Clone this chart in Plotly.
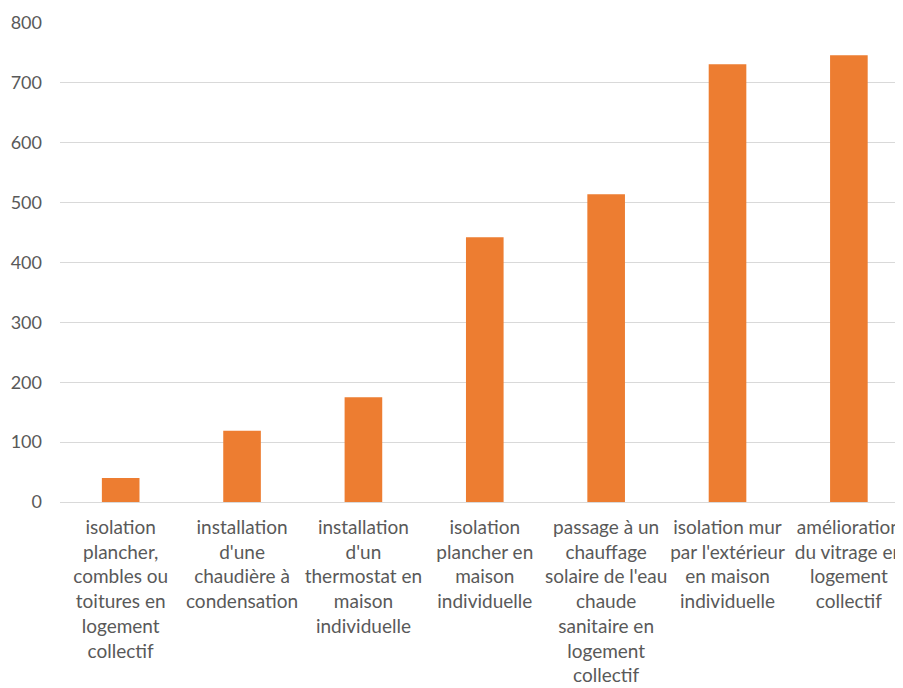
import plotly.graph_objects as go

categories = [
    "isolation<br>plancher,<br>combles ou<br>toitures en<br>logement<br>collectif",
    "installation<br>d'une<br>chaudière à<br>condensation",
    "installation<br>d'un<br>thermostat en<br>maison<br>individuelle",
    "isolation<br>plancher en<br>maison<br>individuelle",
    "passage à un<br>chauffage<br>solaire de l'eau<br>chaude<br>sanitaire en<br>logement<br>collectif",
    "isolation mur<br>par l'extérieur<br>en maison<br>individuelle",
    "amélioration<br>du vitrage en<br>logement<br>collectif",
]
values = [40, 119, 175, 442, 514, 731, 746]
y_ticks = [0, 100, 200, 300, 400, 500, 600, 700, 800]

fig = go.Figure(
    go.Bar(
        x=list(range(len(categories))),
        y=values,
        marker=dict(color="#ED7D31", line=dict(width=0)),
        width=0.31,
    )
)

fig.update_layout(
    width=895,
    height=680,
    margin=dict(l=52, r=0, t=15, b=186),
    paper_bgcolor="white",
    plot_bgcolor="white",
    showlegend=False,
    font=dict(family="Lato, 'Open Sans', sans-serif", size=19, color="#595959"),
)

fig.update_xaxes(
    tickmode="array",
    tickvals=list(range(len(categories))),
    ticktext=categories,
    range=[-0.5, 6.38],
    tickangle=0,
    showgrid=False,
    showline=False,
    zeroline=False,
    ticks="",
    ticklabelstandoff=12,
    ticklabeloverflow="allow",
)

fig.update_yaxes(
    range=[0, 800],
    tickmode="array",
    tickvals=y_ticks,
    showgrid=True,
    gridcolor="#D9D9D9",
    gridwidth=1,
    zeroline=True,
    zerolinecolor="#D9D9D9",
    zerolinewidth=1,
    showline=False,
    ticks="",
    ticklabelstandoff=17,
    tickfont=dict(size=18),
)

fig.write_html("out.html")
